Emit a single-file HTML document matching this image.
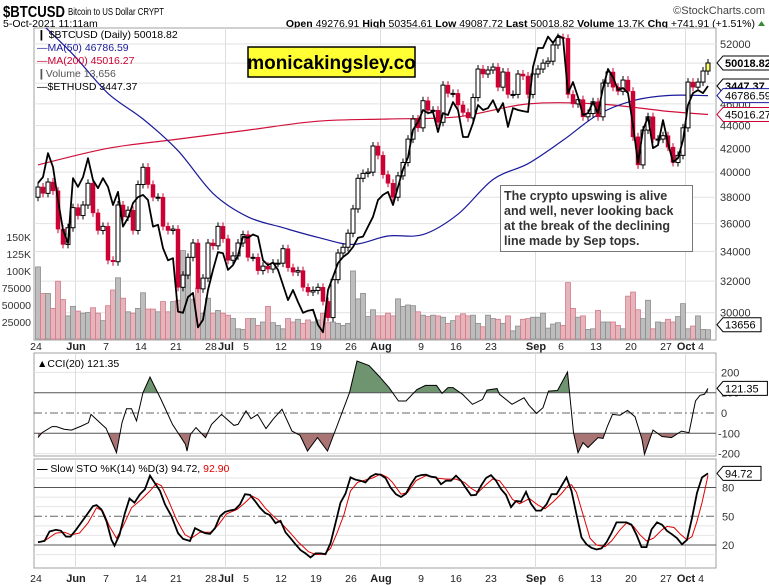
<!DOCTYPE html>
<html><head><meta charset="utf-8"><style>
html,body{margin:0;padding:0;background:#fff;}
svg{display:block;font-family:"Liberation Sans",sans-serif;}
</style></head><body>
<svg id="chart" width="769" height="585" viewBox="0 0 769 585" xmlns="http://www.w3.org/2000/svg">
<rect x="0" y="0" width="769" height="585" fill="#fff"/>
<text x="3" y="17" font-size="16" font-weight="bold" fill="#000" textLength="62" lengthAdjust="spacingAndGlyphs">$BTCUSD</text>
<text x="68" y="15" font-size="10.5" fill="#000" textLength="96" lengthAdjust="spacingAndGlyphs">Bitcoin to US Dollar  CRYPT</text>
<text x="765" y="14" font-size="11" fill="#444" text-anchor="end">©StockCharts.com</text>
<text x="3" y="27" font-size="10.5" fill="#000">5-Oct-2021 11:11am</text>
<text x="755" y="27" font-size="10.5" fill="#000" text-anchor="end"><tspan font-weight="bold">Open</tspan> 49276.91 <tspan font-weight="bold">High</tspan> 50354.61 <tspan font-weight="bold">Low</tspan> 49087.72 <tspan font-weight="bold">Last</tspan> 50018.82 <tspan font-weight="bold">Volume</tspan> 13.7K <tspan font-weight="bold">Chg</tspan> +741.91 (+1.51%)</text>
<polygon points="758,26 765,26 761.5,21" fill="#3a8a3a"/>
<g id="root"></g>
</svg>
<script>
const closes=[38800,38300,39200,38500,35600,34500,35700,37200,36600,37400,
39100,36800,35500,35800,33400,33300,37400,36500,37000,35500,
39000,40400,39000,38000,38000,35800,35500,35600,31600,32400,
33600,34600,31500,32200,34600,34400,35800,34900,33400,33700,
34600,35200,33600,33600,32700,33000,32800,33200,33200,34200,
32900,32600,32700,31600,31300,31400,31600,30700,29700,32100,
33900,34300,35300,37100,39500,39900,40000,42200,41400,39800,
39100,38000,39700,40800,42800,44600,43800,46300,45400,45400,
44300,47800,47000,47000,45900,45200,44700,46600,49400,48900,
49300,49600,47600,49100,46900,46900,48900,48700,46900,48900,
49400,50000,50200,51900,52700,52600,46900,46000,46400,44800,
45100,46200,44800,48000,49100,47600,47200,48300,47200,43000,
40600,43600,44800,42800,42800,43100,42100,40800,41400,43800,
48100,47600,48100,49200,50018.82];
const firstOpen=38000;
const volumesK=[106,67,67,45,85,58,34,48,41,38,
39,46,38,27,49,72,90,60,40,38,
45,68,44,44,40,55,40,55,57,130,
112,58,75,38,60,38,42,38,35,30,
15,14,30,30,20,25,
48,24,20,15,30,25,29,23,28,25,
28,38,24,25,23,20,23,100,59,67,
33,43,34,34,38,34,59,48,50,49,
40,35,33,35,34,32,23,27,34,37,
34,35,23,18,35,
30,29,23,34,12,19,29,30,32,32,38,16,22,24,
20,
83,45,32,34,14,15,42,25,25,25,20,15,63,69,43,30,57,15,25,24,29,25,33,52,15,19,34,14,
13.656];
const ethCloses=[2600,2645,2836,2724,2475,2269,2184,2637,2571,2645,
2795,2622,2562,2637,2571,2439,2534,2291,2349,2453,
2496,2512,2475,2291,2303,2152,2077,2090,1789,1783,
1867,1889,1709,1747,1905,2020,2127,2120,2020,2048,
2107,2225,2218,2239,2225,2077,2048,2064,2020,1933,
1850,1905,1840,1783,1794,1799,1722,1685,1905,1980,
2060,2097,2120,2159,2218,2225,2291,2357,2475,2512,
2534,2439,2571,2705,2802,3034,3104,3215,3186,3196,
3016,3186,3168,3290,3215,2972,2972,3095,3262,3215,
3233,3308,3196,3280,3061,3233,3215,3205,3196,3643,
3850,3850,3980,3906,3994,3963,3377,3487,3338,3168,
3186,3290,3186,3427,3621,3538,3407,3427,3377,3077,
2756,3034,3150,2878,2903,3122,2920,2763,2795,2946,
3262,3377,3407,3377,3447.37];
const ma50Days=[0,7,14,21,28,35,42,49,56,63,70,77,84,91,98,105,112,119,126,134];
const ma50Vals=[54600,50900,47000,44600,41800,38300,36500,35700,35000,34500,35100,35200,36700,39400,40700,42700,45000,46300,46800,46786.59];
const ma200Days=[0,14,28,42,56,70,84,98,112,126,134];
const ma200Vals=[40600,42000,42800,43600,44400,44600,44800,46000,46000,45300,45016.27];
const priceTicks=[30000,32000,34000,36000,38000,40000,42000,44000,46000,48000,50000,52000];
const volTicks=[25,50,75,100,125,150];
const volTickLabels=["25000","50000","75000","100K","125K","150K"];
const dateTickDays=[0,8,14,21,28,35,38,42,49,56,63,69,77,84,91,100,105,112,119,126,130,133];
const dateTickLabels=["24","Jun","7","14","21","28","Jul","5","12","19","26","Aug","9","16","23","Sep","6","13","20","27","Oct","4"];
const monthTickDays=[8,38,69,100,130];
const cciDays=[0,0.8,2.8,3.7,5.2,6.7,8.7,10.1,10.6,13.1,13.6,15.7,16.8,17.7,18.7,19.7,21,22.4,24.6,26.9,29.5,29.8,30.5,31.6,33.5,34.7,36.7,39.2,40,41.6,42.6,43.9,45.6,47,48.8,50.8,52.4,53.9,55.9,57.9,59.8,62.3,63.8,66.2,68.2,70.2,72.1,73.6,75.8,77.5,79.7,80.8,82,83,84.9,86.9,88.9,89.8,91.8,92.3,94.8,97.2,98.2,99.7,101,102.1,103.9,105.9,107.1,108,109,110,112,113,113.9,114.9,116.4,117.9,119.4,120.8,121.3,123,124.8,126.7,128.7,130.2,131.5,132.4,133.3,134];
const cciVals=[-121,-97,-67,-67,-80,-84,-64,-48,-7,-64,-75,-195,-48,21,21,-39,100,177,67,-56,-154,-187,-105,-72,-121,-56,-7,-61,-56,10,-28,-7,-77,-31,18,-89,-110,-187,-121,-187,-64,100,256,234,182,125,59,59,116,136,136,97,125,125,92,43,67,113,120,92,43,75,38,-2,26,108,111,202,-97,-195,-146,-170,-121,-125,-64,-7,-11,13,-18,-130,-203,-84,-116,-121,-89,-97,59,87,92,121.35];
const cciTicks=[-200,-100,0,100,200];
const stoKDays=[0,1.3,2.3,3.6,4.6,5.6,6.5,7.6,9.3,11,11.7,12.7,13.7,14.7,15.3,16.3,17.3,18.3,19.3,20.4,21.4,22.4,23.4,24.4,25.4,26.7,28,29,30.4,31.4,32.4,33.4,34.4,35.4,36.4,37.4,38.4,39.4,40.4,41.4,42.4,43.4,44.4,45.4,46.4,47.5,48.5,49.5,50.5,51.5,52.5,53.5,54.5,55.5,56.5,57.5,58.5,59.5,60.5,61.5,62.5,63.5,64.5,65.5,66.5,67.5,68.5,69.5,70.5,71.6,72.6,73.6,74.6,75.6,76.6,77.6,78.6,79.6,80.6,81.6,82.6,83.6,84.6,85.6,86.6,87.6,88.6,89.6,90.6,91.6,92.6,93.6,94.6,95.6,96.6,97.6,98.6,99.6,100.6,101.7,102.7,103.7,104.7,105.7,106.7,107.7,108.7,109.7,110.7,111.7,112.7,113.7,114.7,115.7,116.7,117.7,118.7,119.7,120.7,121.7,122.7,123.8,124.8,125.8,126.8,127.8,128.8,129.8,130.8,131.8,132.8,133.6,134];
const stoKVals=[22.8,24.2,34.1,35.9,34.8,28.8,28.8,35.9,48.2,60.6,61.7,57.1,44.7,25.3,19.3,30.6,51.8,68.4,64.2,73,78.3,92.4,84.3,76.5,62.4,50,32.4,26.4,24.2,37.6,34.8,32.4,31.6,37.6,50,54.6,56,57.1,62.4,73,72.3,65.9,58.8,53.5,51.1,42.9,45.3,33.3,27.1,20.7,14.7,11.2,6.9,11.2,11.2,10.4,21.8,42.9,64.2,73.7,90.6,88.2,87.1,85.3,91.3,94.1,93.4,89.9,80,72.9,70.1,73.7,83.5,91.3,93,93.4,91.3,90.6,83.5,87.1,87.1,92.4,87.1,79.3,71.9,72.3,81.8,89.9,93,87.1,78.3,72.3,59.6,65.9,65.2,75.4,63,55.9,55.9,62.4,73,73,81.8,90.6,76.5,51.8,27.8,20.7,17.1,15.3,16.4,22.8,32.4,43.6,43.6,43.6,41.2,30.6,17.8,17.8,36.2,43.6,41.2,34.8,31.2,27.1,20.7,25.3,48.2,74.4,90.6,93.4,94.72];
const stoDDays=[0,1.6,3.6,5.3,6.6,8.3,10,11.7,13,14.3,15.7,17,18.7,20.7,22.4,23.7,24.7,26,27.7,29.4,30.7,32.4,34.7,36.1,37.7,39.8,41.4,42.8,44.1,45.4,47.1,48.8,50.5,52.1,54.1,55.5,57.2,58.5,59.8,61.2,62.5,63.9,65.5,66.9,68.5,69.9,70.9,72.6,73.9,75.6,77.6,79.6,81.6,83.6,85.3,86.6,88,89.6,90.9,92.3,93.6,94.9,96.3,98.3,100,101.4,103,104.7,106,106.7,107.7,109,110.4,111.7,113.4,114.7,116.4,117.7,119.1,120.4,121.7,123.1,124.8,125.8,127.2,128.5,129.8,130.8,131.8,132.8,133.6,134];
const stoDVals=[22.8,25.3,32.4,33.4,30.6,32.4,43,58.8,55.3,39.4,27.1,39.4,58.8,67.6,76.5,84.3,81.8,67.6,46.5,30.6,27.1,33.4,33.4,41.2,52.5,57.1,64.2,71.2,67.6,58.8,50,41.9,32.4,22.8,13,10.1,10.4,16.4,32.4,51.8,76.5,85.3,87.8,89.9,94.1,90.6,85.3,73,74.8,87.1,92.4,89.9,88.8,88.8,85.3,79.3,74.8,82.9,88.8,87.1,78.3,67.6,63,68.4,61.7,57.8,64.9,73.7,81.8,82.9,74.8,51.8,27.1,20,18.2,24.2,35.9,43,39.4,30.6,24.2,27.1,35.9,39.4,38.3,31.2,25.3,28.8,44.7,64.2,83,92.9];
const stoTicks=[20,50,80];

const NS="http://www.w3.org/2000/svg";
const root=document.getElementById('root');
function mk(tag,attrs,parent,text){const e=document.createElementNS(NS,tag);for(const k in attrs)e.setAttribute(k,attrs[k]);if(text!==undefined)e.textContent=text;(parent||root).appendChild(e);return e;}
const PL=34,PR=716;
const xD=d=>38+5*d;
const yP=p=>44+488.5*Math.log(52000/p);
const yE=e=>86+344*Math.log(3447.37/e);
const yV=v=>339-v*0.68;
const yC=v=>413-v*0.203;
const yS=v=>545-(v-20)*0.958;
const P={t:28,b:340},C={t:353,b:456},S={t:459,b:568};

const defs=mk('defs',{});
[['clipP',P],['clipC',C],['clipS',S]].forEach(([id,p])=>{const c=mk('clipPath',{id:id},defs);mk('rect',{x:PL,y:p.t,width:PR-PL,height:p.b-p.t},c);});
const cA=mk('clipPath',{id:'cciAbove'},defs);mk('rect',{x:PL,y:C.t,width:PR-PL,height:yC(100)-C.t},cA);
const cB=mk('clipPath',{id:'cciBelow'},defs);mk('rect',{x:PL,y:yC(-100),width:PR-PL,height:C.b-yC(-100)},cB);

[[P,'price-panel'],[C,'cci-panel'],[S,'sto-panel']].forEach(([p,n])=>{
 const r=mk('rect',{x:PL,y:p.t,width:PR-PL,height:p.b-p.t,fill:'#fff',stroke:'#a0a0a0','stroke-width':1});
 
 
});
[P,C,S].forEach(p=>{monthTickDays.forEach(d=>{const l=mk('line',{x1:xD(d)-2.5,x2:xD(d)-2.5,y1:p.t,y2:p.b,stroke:'#ddd','stroke-width':1});});});

priceTicks.forEach(p=>{
 const y=yP(p);
 const l=mk('line',{x1:PL,x2:PR,y1:y,y2:y,stroke:'#e2e2e2','stroke-width':1});
 
 
 const t=mk('text',{x:720,y:y+4,'font-size':11,fill:'#333'},root,String(p));
 
 
});
volTicks.forEach((v,i)=>{
 const t=mk('text',{x:31,y:yV(v)+4,'font-size':10.5,fill:'#333','text-anchor':'end'},root,volTickLabels[i]);
 
 
});

const gP=mk('g',{'clip-path':'url(#clipP)'});
volumesK.forEach((v,i)=>{
 const prev=i===0?firstOpen:closes[i-1];
 const down=closes[i]<prev;
 const r=mk('rect',{x:xD(i)-2.5,y:yV(v),width:5,height:339-yV(v),fill:down?'#e8b4bc':'#bdbdbd',stroke:down?'#d07c8a':'#8c8c8c','stroke-width':0.8},gP);
 
 
});
function linePath(xs,ys){return xs.map((x,i)=>(i?'L':'M')+x.toFixed(1)+','+ys[i].toFixed(1)).join('');}
function smoothPath(xs,ys){
 let d='M'+xs[0].toFixed(1)+','+ys[0].toFixed(1);
 for(let i=0;i<xs.length-1;i++){
  const x0=xs[Math.max(0,i-1)],y0=ys[Math.max(0,i-1)],x1=xs[i],y1=ys[i],x2=xs[i+1],y2=ys[i+1],x3=xs[Math.min(xs.length-1,i+2)],y3=ys[Math.min(xs.length-1,i+2)];
  d+='C'+(x1+(x2-x0)/6).toFixed(1)+','+(y1+(y2-y0)/6).toFixed(1)+' '+(x2-(x3-x1)/6).toFixed(1)+','+(y2-(y3-y1)/6).toFixed(1)+' '+x2.toFixed(1)+','+y2.toFixed(1);
 }
 return d;
}
const ma200=mk('path',{d:smoothPath(ma200Days.map(xD),ma200Vals.map(yP)),fill:'none',stroke:'#d0103a','stroke-width':1.2},gP);


const ma50=mk('path',{d:smoothPath(ma50Days.map(xD),ma50Vals.map(yP)),fill:'none',stroke:'#1a1a9a','stroke-width':1.2},gP);


closes.forEach((c,i)=>{
 const o=i===0?firstOpen:closes[i-1];
 const x=xD(i);const yo=yP(o),yc=yP(c);
 const top=Math.min(yo,yc),bot=Math.max(yo,yc);
 const down=c<o;
 const w=mk('line',{x1:x,x2:x,y1:top-4,y2:bot+4,stroke:down?'#cc0033':'#000','stroke-width':1},gP);
 
 
 const b=mk('rect',{x:x-2,y:top,width:4,height:Math.max(1,bot-top),fill:down?'#cc0033':(i===closes.length-1?'#ffff66':'#fff'),stroke:down?'#cc0033':'#000','stroke-width':down?0.5:1},gP);
 
 
});
const eth=mk('path',{d:linePath(ethCloses.map((v,i)=>xD(i)),ethCloses.map(yE)),fill:'none',stroke:'#000','stroke-width':1.8,'stroke-linejoin':'round'},gP);



function tag(y,txt,stroke,bold,name){
 const g=mk('g',{});
 
 
 const w=txt.length*6.4+6;
 mk('polygon',{points:`717,${y} 723,${y-7} ${723+w},${y-7} ${723+w},${y+7} 723,${y+7}`,fill:'#fff',stroke:stroke,'stroke-width':1},g);
 mk('text',{x:725,y:y+4,'font-size':11,'font-weight':bold?'bold':'normal',fill:'#000'},g,txt);
}
tag(yP(closes[closes.length-1]),'50018.82','#000',true,'last-price-tag');
tag(yE(ethCloses[ethCloses.length-1]),'3447.37','#000',true,'eth-price-tag');
tag(yP(ma50Vals[ma50Vals.length-1]),'46786.59','#1a1a9a',false,'ma50-tag');
tag(yP(ma200Vals[ma200Vals.length-1]),'45016.27','#cc0033',false,'ma200-tag');
tag(yV(volumesK[volumesK.length-1])-5,'13656','#000',false,'volume-tag');

const leg=[['\u2759 $BTCUSD (Daily) 50018.82','#000',38],['\u2014MA(50) 46786.59','#1a1a9a',51],['\u2014MA(200) 45016.27','#cc0033',64],['\u2759Volume 13,656','#555',77],['\u2014$ETHUSD 3447.37','#000',90]];
leg.forEach(([t,c,y])=>{const e=mk('text',{x:37,y:y,'font-size':10.5,fill:c},root,t);});

const wm=mk('g',{});


mk('rect',{x:248,y:47,width:167,height:30,fill:'#ffff33',stroke:'#000','stroke-width':1.5},wm);
mk('text',{x:331.5,y:69,'font-size':19,'font-weight':'bold','text-anchor':'middle',fill:'#000'},wm,'monicakingsley.co');

const an=mk('g',{});


mk('rect',{x:500.5,y:185.5,width:192,height:66,fill:'#fff',stroke:'#777','stroke-width':1},an);
['The crypto upswing is alive','and well, never looking back','at the break of the declining','line made by Sep tops.'].forEach((t,i)=>mk('text',{x:504,y:200+i*15,'font-size':12.5,'font-weight':'bold',fill:'#333'},an,t));

function dateAxis(y,nm){
 dateTickDays.forEach((d,i)=>{
  const isM=isNaN(+dateTickLabels[i]);
  const t=mk('text',{x:xD(d)-2,y:y,'font-size':isM?11:10.5,'font-weight':isM?'bold':'normal','text-anchor':'middle',fill:'#222'},root,dateTickLabels[i]);
  
  
 });
}
dateAxis(350,'date-tick-label');
dateAxis(582,'bottom-date-tick-label');

const gC=mk('g',{'clip-path':'url(#clipC)'});
[-200,200].forEach(v=>{mk('line',{x1:PL,x2:PR,y1:yC(v),y2:yC(v),stroke:'#e2e2e2'},gC);});
const cx=cciDays.map(xD),cy=cciVals.map(yC);
const fillUp=mk('path',{d:linePath(cx,cy)+`L${cx[cx.length-1]},${yC(100)}L${cx[0]},${yC(100)}Z`,fill:'#6f9470','clip-path':'url(#cciAbove)'},gC);


const fillDn=mk('path',{d:linePath(cx,cy)+`L${cx[cx.length-1]},${yC(-100)}L${cx[0]},${yC(-100)}Z`,fill:'#a97474','clip-path':'url(#cciBelow)'},gC);


[100,-100].forEach(v=>{const l=mk('line',{x1:PL,x2:PR,y1:yC(v),y2:yC(v),stroke:'#555','stroke-width':1},gC);});
const z=mk('line',{x1:PL,x2:PR,y1:yC(0),y2:yC(0),stroke:'#666','stroke-dasharray':'8,3,2,3'},gC);


const cl=mk('path',{d:linePath(cx,cy),fill:'none',stroke:'#000','stroke-width':1},gC);


cciTicks.forEach(v=>{const t=mk('text',{x:v<0?718:721,y:yC(v)+4,'font-size':11,fill:'#333'},root,String(v));});
tag(yC(cciVals[cciVals.length-1]),'121.35','#000',false,'cci-tag');
const cleg=mk('text',{x:37,y:367,'font-size':10.5,fill:'#000'},root,'\u25B2CCI(20) 121.35');



const gS=mk('g',{'clip-path':'url(#clipS)'});
[10,30,40,60,70,90].forEach(v=>{mk('line',{x1:PL,x2:PR,y1:yS(v),y2:yS(v),stroke:'#e4e4e4'},gS);});
[20,80].forEach(v=>{const l=mk('line',{x1:PL,x2:PR,y1:yS(v),y2:yS(v),stroke:'#555'},gS);});
const m=mk('line',{x1:PL,x2:PR,y1:yS(50),y2:yS(50),stroke:'#666','stroke-dasharray':'8,3,2,3'},gS);


const dl=mk('path',{d:linePath(stoDDays.map(xD),stoDVals.map(yS)),fill:'none',stroke:'#e00000','stroke-width':1},gS);


const kl=mk('path',{d:linePath(stoKDays.map(xD),stoKVals.map(yS)),fill:'none',stroke:'#000','stroke-width':1.8},gS);


stoTicks.forEach(v=>{const t=mk('text',{x:722,y:yS(v)+4,'font-size':11,fill:'#333'},root,String(v));});
tag(yS(stoKVals[stoKVals.length-1]),'94.72','#000',false,'sto-tag');
const sleg=mk('text',{x:37,y:472,'font-size':10.5,fill:'#000'},root);


mk('tspan',{'font-weight':'bold'},sleg,'\u2014 ');
mk('tspan',{},sleg,'Slow STO %K(14) %D(3) 94.72, ');
mk('tspan',{fill:'#e00000'},sleg,'92.90');
</script>
</body></html>
